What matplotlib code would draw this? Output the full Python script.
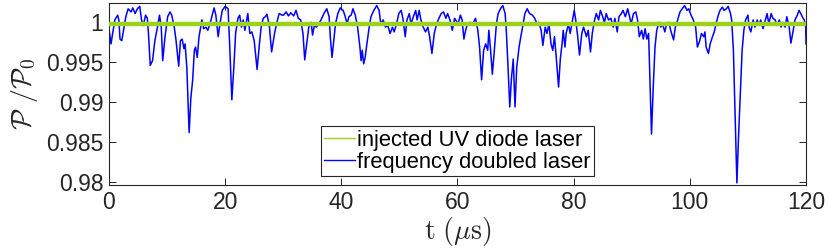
import numpy as np
import matplotlib
matplotlib.use('Agg')
import matplotlib.pyplot as plt
from matplotlib.ticker import FormatStrFormatter, FuncFormatter

# doubled laser trace (t in us, P/P0)
t_doubled = [
    0.0, 0.35, 1.0, 1.5, 1.7, 1.9, 2.2, 2.5, 2.9, 3.3, 3.8, 4.1, 4.5, 4.9, 5.3, 5.6, 5.9,
    6.3, 6.6, 6.8, 7.1, 7.5, 7.9, 8.4, 8.7, 9.0, 9.25, 9.65, 10.1, 10.5, 10.8, 11.2, 11.55,
    12.0, 12.3, 12.6, 12.9, 13.1, 13.4, 13.8, 14.1, 14.4, 14.7, 14.9, 15.2, 15.5, 16.0, 16.3,
    16.7, 17.0, 17.4, 17.7, 18.1, 18.4, 18.8, 19.1, 19.5, 20.0, 20.5, 20.75, 21.15, 21.5,
    21.8, 22.2, 22.5, 22.8, 23.1, 23.4, 23.9, 24.25, 24.6, 25.0, 25.5, 25.9, 26.2, 26.55,
    26.9, 27.2, 27.6, 28.0, 28.5, 28.9, 29.3, 29.8,
    30.05, 30.5, 30.9, 31.3, 31.8, 32.2, 32.6, 33.0, 33.4, 33.7, 34.1, 34.4, 34.8, 35.05,
    35.35, 35.7, 36.1, 36.5, 37.0, 37.5, 37.9, 38.1, 38.4, 38.7, 39.0, 39.4, 39.8, 40.3,
    40.6, 41.0, 41.3, 41.7, 42.0, 42.4, 42.8, 43.2, 43.4, 43.6, 43.85, 44.1, 44.4, 44.8,
    45.1, 45.6, 46.1, 46.5, 46.8, 47.2, 47.6, 48.0, 48.4, 48.8, 49.1, 49.5, 49.9, 50.3,
    50.6, 51.0, 51.3, 51.7, 52.0, 52.4, 52.8, 53.05, 53.4, 53.7, 54.1, 54.5, 54.9, 55.2,
    55.6, 56.0, 56.4, 56.8, 57.2, 57.6, 58.0, 58.3, 58.7, 59.1, 59.5,
    60.1, 60.5, 60.8, 61.1, 61.4, 61.7, 62.2, 62.65, 63.1, 63.5, 63.8, 64.15, 64.5, 64.85,
    65.2, 65.4, 65.7, 66.0, 66.3, 66.7, 67.0, 67.4, 67.8, 68.2, 68.4, 68.7, 69.0, 69.3,
    69.6, 69.9, 70.2, 70.6, 70.9, 71.3, 71.6, 72.0, 72.4, 72.9, 73.3, 73.7, 74.0, 74.4,
    74.7, 75.1, 75.4, 75.75, 76.1, 76.4, 76.7, 77.0, 77.4, 77.7, 78.0, 78.2, 78.5, 78.7,
    79.1, 79.4, 79.8, 80.1, 80.35, 80.7, 81.0, 81.4, 81.7, 82.2, 82.5, 82.9, 83.2, 83.6,
    83.9, 84.3, 84.6, 85.0, 85.3, 85.6, 86.0, 86.4, 86.8, 87.1, 87.5, 87.8, 88.2, 88.5,
    88.9, 89.3, 89.5, 89.9,
    90.3, 90.7, 91.0, 91.3, 91.7, 92.0, 92.3, 92.6, 92.9, 93.1, 93.4, 93.7, 94.0, 94.3,
    94.7, 95.0, 95.3, 95.7, 96.0, 96.4, 96.7, 97.2, 97.5, 97.9, 98.3, 98.7, 99.1, 99.5,
    99.8, 100.2, 100.6, 101.0, 101.3, 101.7, 102.0, 102.4, 102.6, 102.8, 103.2, 103.5,
    103.9, 104.2, 104.5, 104.9, 105.2, 105.6, 105.9, 106.3, 106.6, 107.0, 107.2, 107.5,
    107.8, 108.1, 108.4, 108.7, 109.0, 109.3, 109.6, 110.0, 110.2, 110.5, 110.9, 111.2,
    111.6, 111.9, 112.2, 112.6, 112.9, 113.3, 113.6, 114.0, 114.3, 114.7, 115.0, 115.4,
    115.7, 116.0, 116.4, 116.7, 117.1, 117.4, 117.8, 118.1, 118.5, 118.8, 119.1, 119.5,
    119.7, 119.95, 120.0,
]
p_doubled = [
    0.9992, 0.9973, 1.0003, 1.0009, 1.0003, 0.9979, 0.9977, 0.9990, 1.0007, 1.0017, 1.0013,
    1.0018, 1.0011, 1.0017, 1.0020, 1.0003, 0.9996, 1.0009, 1.0005, 0.9986, 0.9946, 0.9952,
    0.9977, 0.9996, 1.0009, 0.9994, 0.9952, 0.9982, 1.0007, 1.0013, 1.0009, 0.9996, 0.9977,
    0.9945, 0.9977, 0.9979, 0.9967, 0.9973, 0.9944, 0.9862, 0.9906, 0.9927, 0.9965, 0.9969,
    0.9956, 0.9982, 1.0003, 0.9992, 0.9994, 0.9990, 0.9998, 1.0007, 1.0018, 1.0009, 0.9982,
    0.9998, 1.0015, 1.0020, 1.0017, 0.9977, 0.9903, 0.9944, 0.9986, 1.0005, 1.0009, 0.9994,
    1.0003, 0.9990, 1.0011, 0.9986, 0.9988, 0.9977, 0.9941, 0.9973, 0.9994, 1.0005, 1.0007,
    1.0010, 0.9996, 0.9963, 0.9986, 1.0000, 1.0011, 1.0009,
    1.0009, 1.0013, 1.0008, 1.0012, 1.0008, 1.0015, 1.0005, 1.0003, 0.9986, 0.9953, 0.9977,
    0.9994, 1.0000, 0.9984, 0.9996, 0.9994, 0.9998, 1.0003, 1.0011, 1.0017, 1.0007, 0.9982,
    0.9956, 0.9977, 0.9998, 1.0011, 1.0018, 1.0015, 1.0009, 0.9998, 1.0007, 1.0009, 1.0017,
    1.0009, 0.9994, 0.9969, 0.9952, 0.9965, 0.9948, 0.9956, 0.9973, 0.9994, 1.0007, 1.0015,
    1.0021, 1.0015, 0.9998, 1.0003, 0.9994, 0.9996, 0.9986, 0.9994, 0.9988, 0.9998, 1.0011,
    1.0015, 1.0005, 0.9982, 1.0003, 1.0011, 0.9998, 1.0007, 1.0015, 1.0003, 1.0015, 1.0003,
    0.9994, 0.9988, 0.9994, 0.9982, 0.9961, 0.9986, 0.9998, 1.0005, 1.0011, 1.0013, 1.0005,
    1.0011, 1.0003, 0.9990, 1.0005,
    0.9998, 1.0009, 1.0003, 0.9979, 0.9990, 0.9998, 1.0000, 0.9998, 1.0005, 0.9990, 0.9969,
    0.9928, 0.9965, 0.9973, 0.9965, 0.9990, 0.9965, 0.9935, 0.9961, 0.9998, 1.0011, 1.0017,
    1.0021, 1.0011, 0.9990, 0.9944, 0.9894, 0.9931, 0.9954, 0.9894, 0.9944, 0.9969, 0.9982,
    0.9998, 1.0011, 1.0017, 1.0011, 1.0009, 1.0005, 0.9998, 1.0000, 0.9990, 0.9971, 0.9994,
    0.9986, 0.9998, 0.9973, 0.9965, 0.9982, 0.9956, 0.9919, 0.9954, 0.9973, 0.9990, 0.9969,
    0.9986, 0.9998, 0.9986, 1.0003, 1.0015, 1.0003, 0.9982, 0.9959, 0.9986, 0.9994, 0.9982,
    0.9990, 0.9963, 0.9986, 1.0003, 1.0011, 1.0003, 1.0015, 1.0007, 1.0000, 1.0011, 1.0003,
    1.0005, 0.9994, 1.0005, 0.9988, 1.0007, 1.0011, 1.0015, 1.0007, 1.0017, 1.0011, 0.9998,
    1.0011, 1.0013, 1.0003, 0.9982, 0.9990, 0.9979, 0.9992, 0.9979, 0.9986, 0.9935, 0.9860,
    0.9919, 0.9969, 0.9990, 1.0000, 0.9994, 0.9998, 0.9988, 0.9998, 1.0000, 0.9990, 0.9978,
    0.9994, 1.0003, 1.0013, 1.0017, 1.0021, 1.0015, 1.0017, 1.0009, 1.0003, 0.9994, 0.9969,
    0.9977, 0.9986, 0.9982, 0.9988, 0.9969, 0.9961, 0.9973, 0.9982, 0.9988, 0.9998, 1.0009,
    1.0015, 1.0019, 1.0015, 1.0017, 1.0020, 1.0011, 1.0003, 0.9965, 0.9881, 0.9799, 0.9860,
    0.9914, 0.9965, 0.9990, 1.0003, 1.0009, 0.9994, 0.9988, 1.0003, 0.9994, 1.0003, 0.9996,
    1.0003, 0.9992, 1.0000, 1.0011, 0.9998, 1.0011, 1.0005, 1.0003, 0.9996, 1.0003, 0.9994,
    1.0000, 0.9994, 1.0007, 0.9994, 0.9974, 0.9990, 1.0003, 1.0009, 1.0015, 1.0011, 1.0005,
    1.0003, 0.9994, 0.9973,
]

# injected diode laser (flat at this scale)
t_injected = [0.0, 120.0]
p_injected = [0.99975, 0.99975]

x_ticks = [0, 20, 40, 60, 80, 100, 120]
y_ticks = [0.98, 0.985, 0.99, 0.995, 1.0]

plt.rcParams['font.family'] = ['Liberation Sans', 'DejaVu Sans']
plt.rcParams['mathtext.fontset'] = 'cm'

axis_col = '#262626'
fig = plt.figure(figsize=(8.3, 2.52), dpi=100)
ax = fig.add_axes([0.1313, 0.2659, 0.8398, 0.7222])

ax.plot(t_doubled, p_doubled, color='#0000ff', lw=1.1, label='frequency doubled laser', zorder=2)
ax.plot(t_injected, p_injected, color='#9bd31c', lw=3.2, label='injected UV diode laser', zorder=3)

ax.set_xlim(0, 120)
ax.set_ylim(0.97963, 1.00242)
ax.set_xticks(x_ticks)
ax.set_yticks(y_ticks)
ax.yaxis.set_major_formatter(FuncFormatter(lambda v, p: '%g' % round(v, 4)))

ax.tick_params(direction='in', length=5, width=0.7, top=True, right=True,
               colors=axis_col, labelsize=16.5, labelcolor=axis_col, pad=4)
for s in ax.spines.values():
    s.set_color(axis_col)
    s.set_linewidth(0.8)

ax.set_xlabel(r'$\mathrm{t}\ (\mu\mathrm{s})$', fontsize=20, color=axis_col, labelpad=1)
ax.set_ylabel(r'$\mathcal{P}\ /\mathcal{P}_0$', fontsize=20, color=axis_col, labelpad=4)

h, l = ax.get_legend_handles_labels()
leg = ax.legend(h[::-1], l[::-1], loc='lower center', bbox_to_anchor=(0.5, 0.05),
                fontsize=15.8, frameon=True, fancybox=False, framealpha=1,
                edgecolor=axis_col, handlelength=1.4, handletextpad=0.1,
                borderpad=0.15, labelspacing=0.05, borderaxespad=0)
leg.get_frame().set_linewidth(0.8)
for line in leg.get_lines():
    line.set_linewidth(1.0)

fig.savefig('out.png', dpi=100)
